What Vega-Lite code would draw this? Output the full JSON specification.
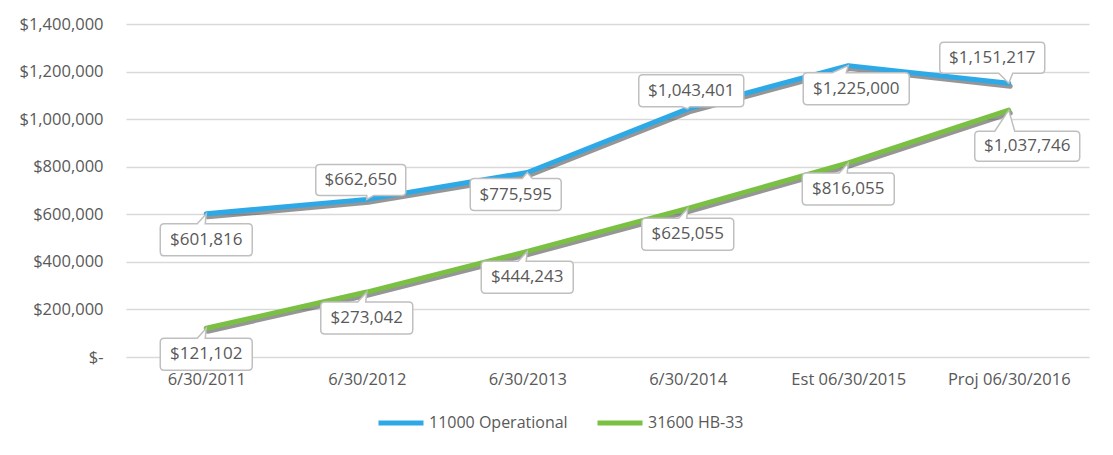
{
  "$schema": "https://vega.github.io/schema/vega-lite/v6.json",
  "width": 963,
  "height": 333,
  "autosize": {"type": "none"},
  "padding": {"left": 126, "top": 24, "right": 24, "bottom": 98},
  "background": "white",
  "config": {"view": {"stroke": null}, "font": "Open Sans"},
  "data": {"values": [
    {"date": "6/30/2011", "series": "11000 Operational", "value": 601816},
    {"date": "6/30/2012", "series": "11000 Operational", "value": 662650},
    {"date": "6/30/2013", "series": "11000 Operational", "value": 775595},
    {"date": "6/30/2014", "series": "11000 Operational", "value": 1043401},
    {"date": "Est 06/30/2015", "series": "11000 Operational", "value": 1225000},
    {"date": "Proj 06/30/2016", "series": "11000 Operational", "value": 1151217},
    {"date": "6/30/2011", "series": "31600 HB-33", "value": 121102},
    {"date": "6/30/2012", "series": "31600 HB-33", "value": 273042},
    {"date": "6/30/2013", "series": "31600 HB-33", "value": 444243},
    {"date": "6/30/2014", "series": "31600 HB-33", "value": 625055},
    {"date": "Est 06/30/2015", "series": "31600 HB-33", "value": 816055},
    {"date": "Proj 06/30/2016", "series": "31600 HB-33", "value": 1037746}
  ]},
  "encoding": {
    "x": {
      "field": "date", "type": "ordinal",
      "sort": ["6/30/2011", "6/30/2012", "6/30/2013", "6/30/2014", "Est 06/30/2015", "Proj 06/30/2016"],
      "scale": {"type": "point", "padding": 0.5},
      "axis": {"title": null, "labelAngle": 0, "domain": false, "ticks": false, "grid": false, "labelPadding": 14, "labelFontSize": 16.5, "labelColor": "#595959", "labelFont": "Open Sans"}
    },
    "y": {
      "field": "value", "type": "quantitative",
      "scale": {"domain": [0, 1400000], "nice": false},
      "axis": {"title": null, "values": [0, 200000, 400000, 600000, 800000, 1000000, 1200000, 1400000], "labelExpr": "datum.value == 0 ? '$-' : '$' + format(datum.value, ',')", "domain": false, "ticks": false, "grid": true, "gridColor": "#D9D9D9", "gridWidth": 1.3, "labelPadding": 23, "labelFontSize": 16.5, "labelColor": "#595959", "labelFont": "Open Sans"}
    }
  },
  "layer": [
    {
      "mark": {"type": "line", "strokeWidth": 5, "color": "#2e2e2e", "opacity": 0.5, "xOffset": 1.5, "yOffset": 3, "strokeCap": "round", "strokeJoin": "round"},
      "encoding": {"detail": {"field": "series", "type": "nominal"}}
    },
    {
      "mark": {"type": "line", "strokeWidth": 5, "strokeCap": "round", "strokeJoin": "round"},
      "encoding": {
        "color": {
          "field": "series", "type": "nominal",
          "scale": {"domain": ["11000 Operational", "31600 HB-33"], "range": ["#2EA9E7", "#7AC143"]},
          "legend": {"title": null, "orient": "none", "legendX": 250, "legendY": 374, "direction": "horizontal", "symbolType": "stroke", "symbolStrokeWidth": 5, "symbolSize": 2025, "labelFontSize": 16, "labelColor": "#595959", "labelFont": "Open Sans", "columnPadding": 19, "labelOffset": 3}
        }
      }
    },
    {
      "transform": [{"filter": "(datum.series == '31600 HB-33' && datum.date != 'Proj 06/30/2016') || (datum.series == '11000 Operational' && datum.date == '6/30/2011')"}],
      "layer": [
        {"mark": {"type": "point", "shape": "M-42,10L-9,10L0,0L-1,10L42,10Q46,10 46,14L46,38Q46,42 42,42L-42,42Q-46,42 -46,38L-46,14Q-46,10 -42,10Z", "size": 4, "filled": true, "fill": "white", "stroke": "#BFBFBF", "strokeWidth": 1.5, "opacity": 1}},
        {"mark": {"type": "text", "dx": 0, "dy": 26, "fontSize": 17, "color": "#595959", "baseline": "middle", "align": "center", "font": "Open Sans"}, "encoding": {"text": {"field": "value", "type": "quantitative", "format": "$,"}}}
      ]
    },
    {
      "transform": [{"filter": "datum.series == '11000 Operational' && datum.date == '6/30/2013'"}],
      "layer": [
        {"mark": {"type": "point", "shape": "M-53,6L-5,6L0,0L5,6L30,6Q34,6 34,10L34,34Q34,38 30,38L-53,38Q-57,38 -57,34L-57,10Q-57,6 -53,6Z", "size": 4, "filled": true, "fill": "white", "stroke": "#BFBFBF", "strokeWidth": 1.5, "opacity": 1}},
        {"mark": {"type": "text", "dx": -11.5, "dy": 22, "fontSize": 17, "color": "#595959", "baseline": "middle", "align": "center", "font": "Open Sans"}, "encoding": {"text": {"field": "value", "type": "quantitative", "format": "$,"}}}
      ]
    },
    {
      "transform": [{"filter": "datum.series == '11000 Operational' && datum.date == '6/30/2012'"}],
      "layer": [
        {"mark": {"type": "point", "shape": "M-47,-35L35,-35Q39,-35 39,-31L39,-8Q39,-4 35,-4L7,-4L0,0L0,-4L-47,-4Q-51,-4 -51,-8L-51,-31Q-51,-35 -47,-35Z", "size": 4, "filled": true, "fill": "white", "stroke": "#BFBFBF", "strokeWidth": 1.5, "opacity": 1}},
        {"mark": {"type": "text", "dx": -6, "dy": -19.5, "fontSize": 17, "color": "#595959", "baseline": "middle", "align": "center", "font": "Open Sans"}, "encoding": {"text": {"field": "value", "type": "quantitative", "format": "$,"}}}
      ]
    },
    {
      "transform": [{"filter": "datum.series == '11000 Operational' && datum.date == '6/30/2014'"}],
      "layer": [
        {"mark": {"type": "point", "shape": "M-45,-34L52,-34Q56,-34 56,-30L56,-6Q56,-2 52,-2L2,-2L0,0L-6,-2L-45,-2Q-49,-2 -49,-6L-49,-30Q-49,-34 -45,-34Z", "size": 4, "filled": true, "fill": "white", "stroke": "#BFBFBF", "strokeWidth": 1.5, "opacity": 1}},
        {"mark": {"type": "text", "dx": 3.5, "dy": -18, "fontSize": 17, "color": "#595959", "baseline": "middle", "align": "center", "font": "Open Sans"}, "encoding": {"text": {"field": "value", "type": "quantitative", "format": "$,"}}}
      ]
    },
    {
      "transform": [{"filter": "datum.series == '11000 Operational' && datum.date == 'Proj 06/30/2016'"}],
      "layer": [
        {"mark": {"type": "point", "shape": "M-65,-41L32,-41Q36,-41 36,-37L36,-14Q36,-10 32,-10L4,-10L0,0L-10,-10L-65,-10Q-69,-10 -69,-14L-69,-37Q-69,-41 -65,-41Z", "size": 4, "filled": true, "fill": "white", "stroke": "#BFBFBF", "strokeWidth": 1.5, "opacity": 1}},
        {"mark": {"type": "text", "dx": -16.5, "dy": -25.5, "fontSize": 17, "color": "#595959", "baseline": "middle", "align": "center", "font": "Open Sans"}, "encoding": {"text": {"field": "value", "type": "quantitative", "format": "$,"}}}
      ]
    },
    {
      "transform": [{"filter": "datum.series == '11000 Operational' && datum.date == 'Est 06/30/2015'"}],
      "layer": [
        {"mark": {"type": "point", "shape": "M-41,7L-16,7L0,0L-2,7L57,7Q61,7 61,11L61,35Q61,39 57,39L-41,39Q-45,39 -45,35L-45,11Q-45,7 -41,7Z", "size": 4, "filled": true, "fill": "white", "stroke": "#BFBFBF", "strokeWidth": 1.5, "opacity": 1}},
        {"mark": {"type": "text", "dx": 8, "dy": 23, "fontSize": 17, "color": "#595959", "baseline": "middle", "align": "center", "font": "Open Sans"}, "encoding": {"text": {"field": "value", "type": "quantitative", "format": "$,"}}}
      ]
    },
    {
      "transform": [{"filter": "datum.series == '31600 HB-33' && datum.date == 'Proj 06/30/2016'"}],
      "layer": [
        {"mark": {"type": "point", "shape": "M-30,21L-14,21L0,0L6,21L67,21Q71,21 71,25L71,47Q71,51 67,51L-30,51Q-34,51 -34,47L-34,25Q-34,21 -30,21Z", "size": 4, "filled": true, "fill": "white", "stroke": "#BFBFBF", "strokeWidth": 1.5, "opacity": 1}},
        {"mark": {"type": "text", "dx": 18.5, "dy": 36, "fontSize": 17, "color": "#595959", "baseline": "middle", "align": "center", "font": "Open Sans"}, "encoding": {"text": {"field": "value", "type": "quantitative", "format": "$,"}}}
      ]
    }
  ]
}
